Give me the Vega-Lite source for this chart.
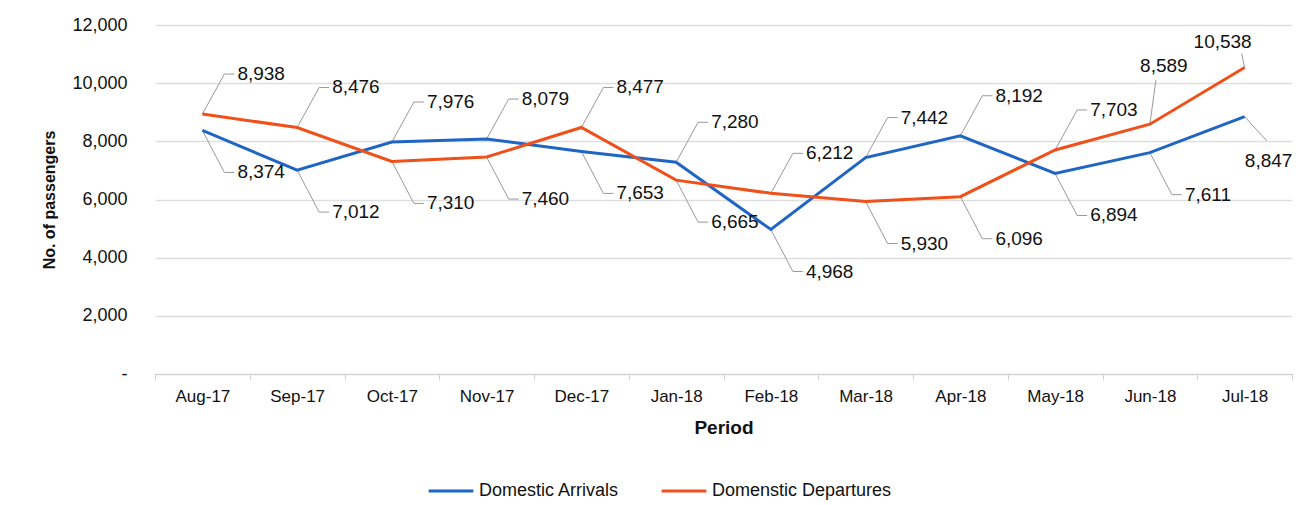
{
  "$schema": "https://vega.github.io/schema/vega-lite/v6.json",
  "width": 1137,
  "height": 349,
  "autosize": {"type": "none"},
  "padding": {"left": 155, "top": 25, "right": 22, "bottom": 131},
  "background": "#ffffff",
  "config": {
    "font": "Liberation Sans",
    "view": {"stroke": null},
    "axis": {"labelFont": "Liberation Sans", "titleFont": "Liberation Sans", "labelColor": "#111", "titleColor": "#111"}
  },
  "data": {
    "values": [
      {"period": "Aug-17", "series": "Domestic Arrivals", "value": 8374},
      {"period": "Sep-17", "series": "Domestic Arrivals", "value": 7012},
      {"period": "Oct-17", "series": "Domestic Arrivals", "value": 7976},
      {"period": "Nov-17", "series": "Domestic Arrivals", "value": 8079},
      {"period": "Dec-17", "series": "Domestic Arrivals", "value": 7653},
      {"period": "Jan-18", "series": "Domestic Arrivals", "value": 7280},
      {"period": "Feb-18", "series": "Domestic Arrivals", "value": 4968},
      {"period": "Mar-18", "series": "Domestic Arrivals", "value": 7442},
      {"period": "Apr-18", "series": "Domestic Arrivals", "value": 8192},
      {"period": "May-18", "series": "Domestic Arrivals", "value": 6894},
      {"period": "Jun-18", "series": "Domestic Arrivals", "value": 7611},
      {"period": "Jul-18", "series": "Domestic Arrivals", "value": 8847},
      {"period": "Aug-17", "series": "Domenstic Departures", "value": 8938},
      {"period": "Sep-17", "series": "Domenstic Departures", "value": 8476},
      {"period": "Oct-17", "series": "Domenstic Departures", "value": 7310},
      {"period": "Nov-17", "series": "Domenstic Departures", "value": 7460},
      {"period": "Dec-17", "series": "Domenstic Departures", "value": 8477},
      {"period": "Jan-18", "series": "Domenstic Departures", "value": 6665},
      {"period": "Feb-18", "series": "Domenstic Departures", "value": 6212},
      {"period": "Mar-18", "series": "Domenstic Departures", "value": 5930},
      {"period": "Apr-18", "series": "Domenstic Departures", "value": 6096},
      {"period": "May-18", "series": "Domenstic Departures", "value": 7703},
      {"period": "Jun-18", "series": "Domenstic Departures", "value": 8589},
      {"period": "Jul-18", "series": "Domenstic Departures", "value": 10538}
    ]
  },
  "transform": [
    {"joinaggregate": [{"op": "max", "field": "value", "as": "maxv"}], "groupby": ["period"]}
  ],
  "encoding": {
    "x": {
      "field": "period", "type": "nominal",
      "scale": {"type": "band", "paddingInner": 0, "paddingOuter": 0,
        "domain": ["Aug-17", "Sep-17", "Oct-17", "Nov-17", "Dec-17", "Jan-18", "Feb-18", "Mar-18", "Apr-18", "May-18", "Jun-18", "Jul-18"]},
      "axis": {
        "title": "Period", "titleFontSize": 19, "titleFontWeight": "bold", "titlePadding": 14,
        "labelAngle": 0, "labelFontSize": 17, "labelPadding": 8,
        "tickBand": "extent", "tickSize": 6, "tickColor": "#d0d0d0",
        "domainColor": "#d0d0d0", "grid": false
      }
    },
    "y": {
      "field": "value", "type": "quantitative",
      "scale": {"domain": [0, 12000], "nice": false},
      "axis": {
        "title": "No. of passengers", "titleFontSize": 16, "titleFontWeight": "bold", "titlePadding": 14,
        "values": [0, 2000, 4000, 6000, 8000, 10000, 12000],
        "labelExpr": "datum.value == 0 ? '-' : format(datum.value, ',')",
        "labelFontSize": 18, "labelPadding": 28,
        "domain": false, "ticks": false,
        "grid": true, "gridColor": "#dedede", "gridWidth": 1.5
      }
    }
  },
  "layer": [
    {
      "mark": {"type": "rule", "color": "#999999", "strokeWidth": 1, "x2Offset": 22, "y2Offset": -40},
      "transform": [{"filter": "datum.value == datum.maxv && datum.period != 'Jul-18' && datum.period != 'Jun-18'"}],
      "encoding": {"x2": {"field": "period"}, "y2": {"field": "value"}}
    },
    {
      "mark": {"type": "rule", "color": "#999999", "strokeWidth": 1, "xOffset": 22, "x2Offset": 32, "yOffset": -40, "y2Offset": -40},
      "transform": [{"filter": "datum.value == datum.maxv && datum.period != 'Jul-18' && datum.period != 'Jun-18'"}],
      "encoding": {"x2": {"field": "period"}, "y2": {"field": "value"}}
    },
    {
      "mark": {"type": "rule", "color": "#999999", "strokeWidth": 1, "x2Offset": 22, "y2Offset": 42},
      "transform": [{"filter": "datum.value < datum.maxv && datum.period != 'Jul-18'"}],
      "encoding": {"x2": {"field": "period"}, "y2": {"field": "value"}}
    },
    {
      "mark": {"type": "rule", "color": "#999999", "strokeWidth": 1, "xOffset": 22, "x2Offset": 32, "yOffset": 42, "y2Offset": 42},
      "transform": [{"filter": "datum.value < datum.maxv && datum.period != 'Jul-18'"}],
      "encoding": {"x2": {"field": "period"}, "y2": {"field": "value"}}
    },
    {
      "mark": {"type": "rule", "color": "#999999", "strokeWidth": 1, "x2Offset": 6, "y2Offset": -44},
      "transform": [{"filter": "datum.value == datum.maxv && datum.period == 'Jun-18'"}],
      "encoding": {"x2": {"field": "period"}, "y2": {"field": "value"}}
    },
    {
      "mark": {"type": "rule", "color": "#999999", "strokeWidth": 1, "x2Offset": -3, "y2Offset": -14},
      "transform": [{"filter": "datum.value == datum.maxv && datum.period == 'Jul-18'"}],
      "encoding": {"x2": {"field": "period"}, "y2": {"field": "value"}}
    },
    {
      "mark": {"type": "rule", "color": "#999999", "strokeWidth": 1, "x2Offset": 22, "y2Offset": 24},
      "transform": [{"filter": "datum.value < datum.maxv && datum.period == 'Jul-18'"}],
      "encoding": {"x2": {"field": "period"}, "y2": {"field": "value"}}
    },
    {
      "mark": {"type": "line", "strokeWidth": 3},
      "encoding": {
        "color": {
          "field": "series", "type": "nominal",
          "scale": {"domain": ["Domestic Arrivals", "Domenstic Departures"], "range": ["#1f65c3", "#f0501a"]},
          "legend": {
            "title": null, "orient": "none", "direction": "horizontal",
            "legendX": 272, "legendY": 442,
            "symbolType": "stroke", "symbolSize": 2000, "symbolStrokeWidth": 3,
            "labelFontSize": 18, "labelColor": "#111", "labelLimit": 400, "columnPadding": 35, "labelOffset": 4
          }
        }
      }
    },
    {
      "mark": {"type": "text", "align": "left", "baseline": "middle", "dx": 35, "dy": -40, "fontSize": 19, "color": "#111"},
      "transform": [{"filter": "datum.value == datum.maxv && datum.period != 'Jul-18' && datum.period != 'Jun-18'"}],
      "encoding": {"text": {"field": "value", "type": "quantitative", "format": ","}}
    },
    {
      "mark": {"type": "text", "align": "left", "baseline": "middle", "dx": 35, "dy": 42, "fontSize": 19, "color": "#111"},
      "transform": [{"filter": "datum.value < datum.maxv && datum.period != 'Jul-18'"}],
      "encoding": {"text": {"field": "value", "type": "quantitative", "format": ","}}
    },
    {
      "mark": {"type": "text", "align": "center", "baseline": "middle", "dx": 14, "dy": -58, "fontSize": 19, "color": "#111"},
      "transform": [{"filter": "datum.value == datum.maxv && datum.period == 'Jun-18'"}],
      "encoding": {"text": {"field": "value", "type": "quantitative", "format": ","}}
    },
    {
      "mark": {"type": "text", "align": "center", "baseline": "middle", "dx": -22, "dy": -26, "fontSize": 19, "color": "#111"},
      "transform": [{"filter": "datum.value == datum.maxv && datum.period == 'Jul-18'"}],
      "encoding": {"text": {"field": "value", "type": "quantitative", "format": ","}}
    },
    {
      "mark": {"type": "text", "align": "center", "baseline": "middle", "dx": 24, "dy": 44, "fontSize": 19, "color": "#111"},
      "transform": [{"filter": "datum.value < datum.maxv && datum.period == 'Jul-18'"}],
      "encoding": {"text": {"field": "value", "type": "quantitative", "format": ","}}
    }
  ]
}
